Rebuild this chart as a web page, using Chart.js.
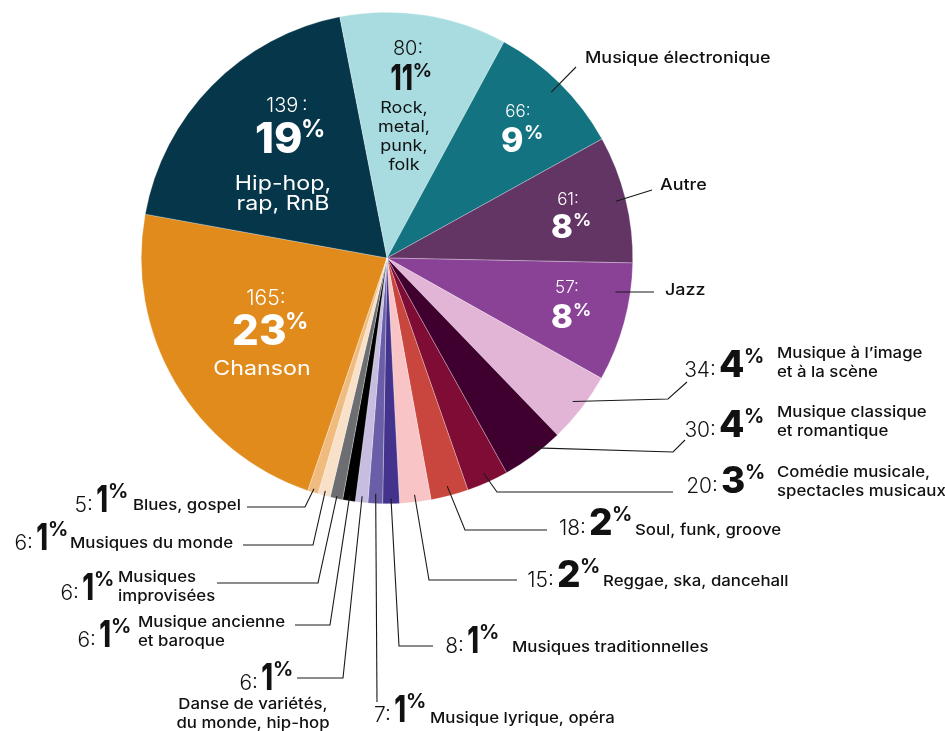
<!DOCTYPE html>
<html lang="fr">
<head>
<meta charset="utf-8">
<title>Genres musicaux</title>
<script src="https://cdn.jsdelivr.net/npm/chart.js@4.4.1/dist/chart.umd.min.js"></script>
<style>
  html, body { margin: 0; padding: 0; background: #fff; }
  #wrap { position: relative; width: 945px; height: 731px; }
</style>
</head>
<body>
<div id="wrap"><canvas id="pie"></canvas></div>
<script>
// Data (clockwise, starting with Chanson)
const categories = [
  'Chanson', 'Hip-hop, rap, RnB', 'Rock, metal, punk, folk', 'Musique électronique',
  'Autre', 'Jazz', 'Musique à l\u2019image et à la scène', 'Musique classique et romantique',
  'Comédie musicale, spectacles musicaux', 'Soul, funk, groove', 'Reggae, ska, dancehall',
  'Musiques traditionnelles', 'Musique lyrique, opéra', 'Danse de variétés, du monde, hip-hop',
  'Musique ancienne et baroque', 'Musiques improvisées', 'Musiques du monde', 'Blues, gospel'
];
const counts = [165, 139, 80, 66, 61, 57, 34, 30, 20, 18, 15, 8, 7, 6, 6, 6, 6, 5];
const percents = [23, 19, 11, 9, 8, 8, 4, 4, 3, 2, 2, 1, 1, 1, 1, 1, 1, 1];
const sliceColors = [
  '#e08b1c', '#05364a', '#a8dce0', '#137381', '#633565', '#8a4297',
  '#e2b5d6', '#3f0030', '#7e0c35', '#c8463e', '#f8c4c6', '#43338c',
  '#6b5ea8', '#c6bde0', '#000000', '#6d6e71', '#f8e1c8', '#f0bb7f'
];

const FAMILY = 'Inter, "Noto Sans", sans-serif';
const f = (w, s) => w + ' ' + s + 'px ' + FAMILY;

// Labels inside the big slices
const innerLabels = {
  0: { cx: 266, countY: 305, countSize: 21, pctCx: 270, pctY: 345, pctSize: 42, color: '#fff',
       name: ['Chanson'], nameCx: 262, nameY: 375, nameSize: 20, lineH: 20 },
  1: { cx: 287, countY: 112, countSize: 20, pctCx: 290, pctY: 153, pctSize: 43, color: '#fff',
       name: ['Hip-hop,', 'rap, RnB'], nameCx: 283, nameY: 190, nameSize: 20, lineH: 20, count: '139\u2009:' },
  2: { cx: 408, countY: 55, countSize: 20, pctCx: 411, pctY: 90, pctSize: 35, color: '#111',
       name: ['Rock,', 'metal,', 'punk,', 'folk'], nameCx: 404, nameY: 113, nameSize: 15.5, lineH: 19 },
  3: { cx: 518, countY: 117, countSize: 17, pctCx: 522, pctY: 152, pctSize: 34, color: '#fff' },
  4: { cx: 568, countY: 205, countSize: 17, pctCx: 571, pctY: 238, pctSize: 33, color: '#fff' },
  5: { cx: 567, countY: 293, countSize: 17, pctCx: 571, pctY: 328, pctSize: 33, color: '#fff' }
};

// Labels outside, with leader lines (r = anchor radius fraction, t = position inside the slice)
const outerLabels = {
  3:  { r: 0.95, path: [[576, 67]], name: ['Musique électronique'], nameX: 585, nameY: 63, size: 16 },
  4:  { r: 0.96, path: [[652, 190]], name: ['Autre'], nameX: 660, nameY: 190, size: 16 },
  5:  { r: 0.94, t: 0.26, path: [[654, 292]], name: ['Jazz'], nameX: 665, nameY: 295, size: 16 },
  6:  { r: 0.955, path: [[668, 399], [687, 382]], pctX: 720, y: 377, name: ['Musique à l\u2019image', 'et à la scène'], nameX: 777, nameY: 358 },
  7:  { r: 0.96, path: [[673, 452], [685, 440]], pctX: 720, y: 437, name: ['Musique classique', 'et romantique'], nameX: 777, nameY: 417 },
  8:  { r: 0.96, path: [[497, 492], [673, 492]], pctX: 722, y: 493, name: ['Comédie musicale,', 'spectacles musicaux'], nameX: 777, nameY: 477 },
  9:  { r: 0.96, path: [[465, 530], [547, 530]], pctX: 590, y: 535, name: ['Soul, funk, groove'], nameX: 635, nameY: 535 },
  10: { r: 0.97, path: [[429, 580], [517, 580]], pctX: 558, y: 587, name: ['Reggae, ska, dancehall'], nameX: 603, nameY: 586 },
  11: { r: 0.98, path: [[399, 646], [433, 646]], pctX: 468, y: 653, name: ['Musiques traditionnelles'], nameX: 512, nameY: 652 },
  12: { r: 0.96, path: [[377, 702]], pctX: 395, y: 722, name: ['Musique lyrique, opéra'], nameX: 430, nameY: 723 },
  13: { r: 0.975, path: [[343, 678], [297, 678]], pctX: 262, y: 690, name: ['Danse de variétés,', 'du monde, hip-hop'], nameX: 253, nameY: 709, align: 'center' },
  14: { r: 0.98, path: [[330, 625], [295, 625]], pctX: 100, y: 647, name: ['Musique ancienne', 'et baroque'], nameX: 138, nameY: 627 },
  15: { r: 0.99, path: [[318, 583], [217, 583]], pctX: 83, y: 600, name: ['Musiques', 'improvisées'], nameX: 118, nameY: 582 },
  16: { r: 0.98, path: [[313, 545], [243, 545]], pctX: 37, y: 550, name: ['Musiques du monde'], nameX: 70, nameY: 548 },
  17: { r: 0.985, path: [[305, 507], [247, 507]], pctX: 97, y: 512, name: ['Blues, gospel'], nameX: 133, nameY: 510 }
};

// draw text stretched horizontally (Poppins-like width)
function wideText(ctx, text, x, y, sx) {
  ctx.save();
  ctx.translate(x, y);
  ctx.scale(sx, 1);
  ctx.fillText(text, 0, 0);
  ctx.restore();
}

// big bold number + small raised "%"; x is ink-left (or ink-centre)
function drawPct(ctx, text, x, y, size, color, centered) {
  const sx = /^1+$/.test(text) ? 0.72 : 1; // narrow "1" like the original typeface
  ctx.fillStyle = color;
  ctx.textBaseline = 'alphabetic';
  ctx.textAlign = 'left';
  ctx.font = f(800, size);
  const m = ctx.measureText(text);
  const inkW = (m.actualBoundingBoxLeft + m.actualBoundingBoxRight) * sx;
  const ps = Math.round(size * 0.55);
  ctx.font = f(700, ps);
  const pm = ctx.measureText('%');
  const pw = pm.actualBoundingBoxLeft + pm.actualBoundingBoxRight;
  const inkLeft = centered ? x - (inkW + 2 + pw) / 2 : x;
  ctx.font = f(800, size);
  wideText(ctx, text, inkLeft + m.actualBoundingBoxLeft * sx, y, sx);
  ctx.font = f(700, ps);
  ctx.fillText('%', inkLeft + inkW + 2 + pm.actualBoundingBoxLeft, y - size * 0.37);
}

const labelPlugin = {
  id: 'sliceLabels',
  afterDatasetsDraw(chart) {
    const ctx = chart.ctx;
    const arcs = chart.getDatasetMeta(0).data;
    ctx.save();

    // inside labels
    Object.keys(innerLabels).forEach(k => {
      const i = +k, L = innerLabels[k];
      ctx.fillStyle = L.color;
      ctx.textAlign = 'center';
      ctx.textBaseline = 'alphabetic';
      ctx.font = f(300, L.countSize);
      ctx.fillText(L.count || (counts[i] + ':'), L.cx, L.countY);
      drawPct(ctx, String(percents[i]), L.pctCx, L.pctY, L.pctSize, L.color, true);
      if (L.name) {
        ctx.fillStyle = L.color;
        ctx.textAlign = 'center';
        ctx.font = f(400, L.nameSize);
        L.name.forEach((ln, j) => wideText(ctx, ln, L.nameCx, L.nameY + j * L.lineH, 1.16));
      }
    });

    // outside labels + leaders
    Object.keys(outerLabels).forEach(k => {
      const i = +k, L = outerLabels[k];
      const a = arcs[i];
      const t = L.t !== undefined ? L.t : 0.5;
      const ang = a.startAngle + (a.endAngle - a.startAngle) * t;
      const ax = a.x + Math.cos(ang) * a.outerRadius * L.r;
      const ay = a.y + Math.sin(ang) * a.outerRadius * L.r;
      ctx.strokeStyle = '#1a1a1a';
      ctx.lineWidth = 1.1;
      ctx.beginPath();
      ctx.moveTo(ax, ay);
      L.path.forEach(p => ctx.lineTo(p[0], p[1]));
      ctx.stroke();

      if (L.pctX !== undefined) {
        ctx.fillStyle = '#111';
        ctx.textAlign = 'right';
        ctx.textBaseline = 'alphabetic';
        ctx.font = f(300, 21);
        ctx.fillText(counts[i] + ':', L.pctX - 4, L.y);
        drawPct(ctx, String(percents[i]), L.pctX, L.y, 37, '#111', false);
      }
      ctx.fillStyle = '#111';
      ctx.textAlign = L.align || 'left';
      ctx.textBaseline = 'alphabetic';
      ctx.font = f(500, L.size || 15);
      L.name.forEach((ln, j) => wideText(ctx, ln, L.nameX, L.nameY + j * 18.5, 1.12));
    });
    ctx.restore();
  }
};

new Chart(document.getElementById('pie'), {
  type: 'pie',
  data: {
    labels: categories,
    datasets: [{
      data: counts,
      backgroundColor: sliceColors,
      borderColor: 'rgba(255,255,255,0.55)',
      borderWidth: 0.5
    }]
  },
  options: {
    responsive: true,
    maintainAspectRatio: false,
    animation: false,
    rotation: 198.8,
    layout: { padding: { left: 141, top: 12, right: 312, bottom: 227 } },
    plugins: { legend: { display: false }, tooltip: { enabled: false } }
  },
  plugins: [labelPlugin]
});
</script>
</body>
</html>
